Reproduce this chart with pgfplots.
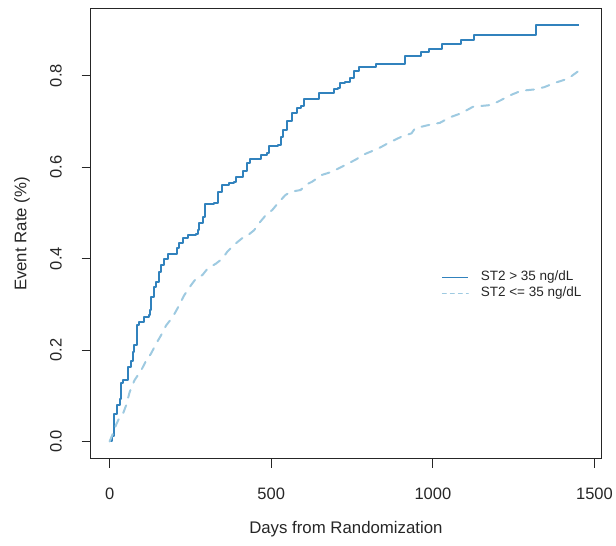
\documentclass[border=0pt]{standalone}
\usepackage{fontspec}
\setmainfont{Liberation Sans}
\usepackage{pgfplots}
\pgfplotsset{compat=1.18}
\definecolor{hiST}{HTML}{3182BD}
\definecolor{loST}{HTML}{9ECAE1}
\definecolor{ink}{HTML}{262626}

\begin{document}
\begin{tikzpicture}
\useasboundingbox (-90.7pt,-87pt) rectangle (525.3pt,459pt);
\begin{axis}[
    at={(0pt,0pt)}, anchor=south west,
    scale only axis, width=510.4pt, height=450pt,
    xmin=-58.5, xmax=1520.5,
    ymin=-0.0383, ymax=0.9459,
    xtick={0,500,1000,1500}, xticklabels={0,500,1000,1500},
    ytick={0,0.2,0.4,0.6,0.8}, yticklabels={0.0,0.2,0.4,0.6,0.8},
    tick pos=left, tick align=outside, major tick length=9pt,
    axis line style={ink, line width=1pt},
    tick style={ink, line width=1pt},
    ticklabel style={font=\fontsize{16.5}{19}\selectfont, text=ink},
    xticklabel style={anchor=base, yshift=-31pt},
    yticklabel style={xshift=-20pt, rotate=90, anchor=base},
    label style={font=\fontsize{16.8}{19}\selectfont, text=ink},
    xlabel={Days from Randomization},
    xlabel style={at={(axis description cs:0.5,-0.1645)}, anchor=base},
    ylabel={Event Rate (\%)},
    ylabel style={at={(axis description cs:-0.1262,0.5)}, rotate=0, anchor=base},
    legend image code/.code={\draw[#1] (0pt,0pt) -- (26pt,0pt);},
    legend cell align=left,
    legend style={draw=none, fill=none, inner sep=0pt, outer sep=0pt,
        at={(axis description cs:0.6878,0.418)}, anchor=north west,
        font=\fontsize{13.5}{16}\selectfont, column sep=12pt, row sep=3pt,
        nodes={inner sep=0pt, text height=10pt, text depth=3pt, text=ink}},
]
% ST2 > 35 ng/dL (step curve)
\addplot[hiST, line width=2pt, const plot, line join=round, forget plot] coordinates {
(0,0) (7,0.013) (13,0.035) (15,0.061) (22,0.079) (31,0.094) (36,0.127) (41,0.134)
(56,0.163) (67,0.177) (72,0.196) (77,0.210) (84,0.254) (92,0.261) (105,0.272)
(121,0.276) (125,0.287) (128,0.316) (136,0.338) (142,0.349) (152,0.371) (159,0.386)
(169,0.400) (180,0.409) (210,0.423) (216,0.434) (226,0.446) (241,0.451) (267,0.453)
(272,0.462) (277,0.477) (290,0.491) (296,0.519) (323,0.521) (334,0.546) (349,0.561)
(370,0.566) (385,0.568) (390,0.579) (409,0.579) (413,0.592) (426,0.608) (433,0.617)
(462,0.617) (467,0.627) (488,0.630) (493,0.647) (522,0.648) (529,0.667) (536,0.681)
(549,0.702) (563,0.718) (580,0.729) (591,0.734) (601,0.749) (642,0.749) (647,0.762)
(688,0.763) (693,0.770) (706,0.773) (714,0.784) (729,0.787) (745,0.795) (755,0.811)
(770,0.818) (823,0.825) (914,0.843) (963,0.851) (989,0.859) (1027,0.870)
(1087,0.878) (1128,0.888) (1318,0.911) (1453,0.911)
};
% ST2 <= 35 ng/dL
\addplot[loST, line width=2pt, dash pattern=on 8pt off 8pt, line cap=round, forget plot] coordinates {
(0,0) (10,0.017) (21,0.038) (31,0.053) (41,0.060) (51,0.079) (62,0.108) (77,0.134)
(98,0.156) (113,0.177) (128,0.192) (144,0.214) (159,0.232) (175,0.254) (195,0.272)
(210,0.291) (231,0.320) (252,0.342) (267,0.356) (287,0.364) (303,0.378) (329,0.389)
(349,0.400) (364,0.415) (390,0.433) (416,0.448) (431,0.453) (447,0.462) (462,0.477)
(488,0.499) (503,0.506) (524,0.524) (544,0.539) (560,0.546) (591,0.550) (606,0.561)
(626,0.568) (657,0.583) (688,0.590) (719,0.601) (760,0.616) (791,0.629) (832,0.641)
(863,0.653) (904,0.667) (934,0.674) (945,0.685) (986,0.692) (1022,0.697) (1053,0.709)
(1088,0.718) (1124,0.732) (1181,0.736) (1212,0.747) (1242,0.758) (1273,0.767)
(1315,0.770) (1345,0.775) (1376,0.784) (1407,0.791) (1427,0.798) (1448,0.809)
};
\addlegendimage{hiST, line width=1pt}
\addlegendentry{ST2 > 35 ng/dL}
\addlegendimage{loST, line width=1pt, dash pattern=on 4pt off 4pt, line cap=round}
\addlegendentry{ST2 <= 35 ng/dL}
\end{axis}
\end{tikzpicture}
\end{document}
